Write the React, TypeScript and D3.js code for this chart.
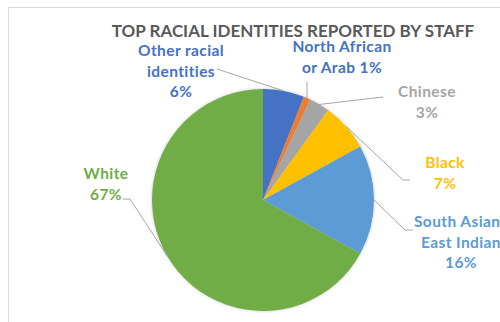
import React from "react";
import * as d3 from "d3";

const categories = ["Other racial identities", "North African or Arab", "Chinese", "Black", "South Asian/East Indian", "White"];
const values = [6, 1, 3, 7, 16, 67];
const labelLines = [
  ["Other racial", "identities", "6%"],
  ["North African", "or Arab 1%"],
  ["Chinese", "3%"],
  ["Black", "7%"],
  ["South Asian/", "East Indian", "16%"],
  ["White", "67%"],
];
const colors = ["#4472C4", "#ED7D31", "#A5A5A5", "#FFC000", "#5B9BD5", "#70AD47"];
const labelColors = ["#4472C4", "#4472C4", "#A5A5A5", "#FFC000", "#5B9BD5", "#70AD47"];

// label layout (centre x, first-line y, leader elbow points)
const labelLayout = [
  { x: 181, y: 56, path: [[217, 69]] },
  { x: 342, y: 52, path: [[307, 82]] },
  { x: 427, y: 97, path: [[383, 97]] },
  { x: 445, y: 168, path: [[403, 180], [410, 180]] },
  { x: 461, y: 227, path: [[405, 230], [413, 230]] },
  { x: 106, y: 179, path: [[130, 199], [123, 199]] },
];

export default function App() {
  const cx = 263, cy = 200, r = 111;
  const pie = d3.pie<number>().sort(null).value((d) => d);
  const arcs = pie(values);
  const arc = d3.arc<d3.PieArcDatum<number>>().innerRadius(0).outerRadius(r);
  const edge = d3.arc<d3.PieArcDatum<number>>().innerRadius(r).outerRadius(r);
  const font = "Lato, 'Open Sans', sans-serif";
  return (
    <svg width={500} height={322} style={{ position: "absolute", left: 0, top: 0, background: "#fff" }}>
      <defs>
        <filter id="sh" x="-20%" y="-20%" width="140%" height="140%">
          <feDropShadow dx="0" dy="0" stdDeviation="1.5" floodColor="#000" floodOpacity="0.25" />
        </filter>
      </defs>
      <rect x={8.5} y={7.5} width={600} height={400} fill="#fff" stroke="#d9d9d9" strokeWidth={1} />
      <text x={293} y={36.5} textAnchor="middle" fontFamily={font} fontWeight={700} fontSize={17} fill="#595959">
        TOP RACIAL IDENTITIES REPORTED BY STAFF
      </text>
      <g transform={`translate(${cx},${cy})`} filter="url(#sh)">
        {arcs.map((a, i) => (
          <path key={categories[i]} d={arc(a) || ""} fill={colors[i]} />
        ))}
      </g>
      {arcs.map((a, i) => {
        const [ex, ey] = edge.centroid(a);
        const pts = [[cx + ex, cy + ey], ...labelLayout[i].path];
        return (
          <polyline key={"l" + i} points={pts.map((p) => p.join(",")).join(" ")} fill="none" stroke="#A6A6A6" strokeWidth={1} />
        );
      })}
      {labelLines.map((lines, i) => (
        <text key={"t" + i} textAnchor="middle" fontFamily={font} fontWeight={700} fontSize={15.5} letterSpacing={0.4} fill={labelColors[i]}>
          {lines.map((ln, j) => (
            <tspan key={j} x={labelLayout[i].x} y={labelLayout[i].y + j * 20.5}>
              {ln}
            </tspan>
          ))}
        </text>
      ))}
    </svg>
  );
}
